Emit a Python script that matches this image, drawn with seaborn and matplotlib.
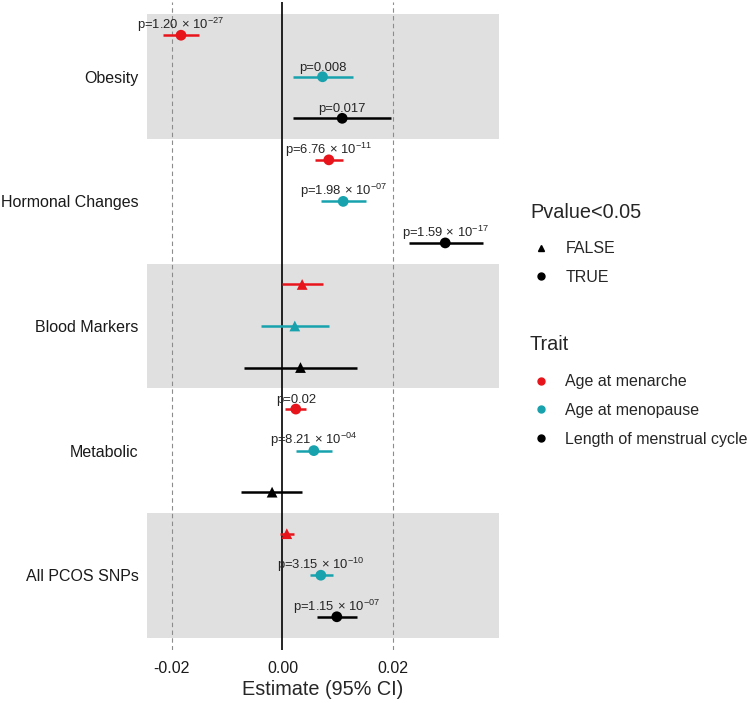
import numpy as np
import pandas as pd
import matplotlib
matplotlib.use("Agg")
import matplotlib.pyplot as plt
from matplotlib.lines import Line2D
import seaborn as sns

# data
groups = ["Obesity", "Hormonal Changes", "Blood Markers", "Metabolic", "All PCOS SNPs"]
traits = ["Age at menarche", "Age at menopause", "Length of menstrual cycle"]
est = [[-0.01833, 0.00723, 0.01078],
       [0.00837, 0.01096, 0.02939],
       [0.00355, 0.00222, 0.00325],
       [0.00240, 0.00566, -0.00188],
       [0.00078, 0.00692, 0.00981]]
lo = [[-0.02158, 0.00192, 0.00192],
      [0.00596, 0.00692, 0.02277],
      [0.00000, -0.00380, -0.00693],
      [0.00042, 0.00240, -0.00741],
      [-0.00049, 0.00488, 0.00620]]
hi = [[-0.01507, 0.01265, 0.01952],
      [0.01084, 0.01506, 0.03615],
      [0.00734, 0.00843, 0.01337],
      [0.00433, 0.00903, 0.00361],
      [0.00210, 0.00915, 0.01337]]
sig = [[True, True, True],
       [True, True, True],
       [False, False, False],
       [True, True, False],
       [False, True, True]]
plabels = [[r"p=1.20$\,\times\,$10$^{-27}$", "p=0.008", "p=0.017"],
           [r"p=6.76$\,\times\,$10$^{-11}$", r"p=1.98$\,\times\,$10$^{-07}$", r"p=1.59$\,\times\,$10$^{-17}$"],
           ["", "", ""],
           ["p=0.02", r"p=8.21$\,\times\,$10$^{-04}$", ""],
           ["", r"p=3.15$\,\times\,$10$^{-10}$", r"p=1.15$\,\times\,$10$^{-07}$"]]

palette = {"Age at menarche": "#E8141B",
           "Age at menopause": "#17A2AD",
           "Length of menstrual cycle": "#000000"}

rows = []
for gi, g in enumerate(groups):
    for ti, t in enumerate(traits):
        rows.append(dict(group=g, trait=t, pos=gi + (ti - 1) / 3,
                         est=est[gi][ti], lo=lo[gi][ti], hi=hi[gi][ti],
                         sig=sig[gi][ti], lab=plabels[gi][ti]))
df = pd.DataFrame(rows)

sns.set_style("white")
plt.rcParams["font.family"] = ["Liberation Sans", "DejaVu Sans"]
plt.rcParams["mathtext.fontset"] = "custom"
plt.rcParams["mathtext.rm"] = "Liberation Sans"
plt.rcParams["mathtext.it"] = "Liberation Sans"

fig = plt.figure(figsize=(7.5, 7.04), dpi=100)
ax = fig.add_axes([147 / 750, 1 - 650 / 704, (499 - 147) / 750, (650 - 2) / 704])

for gi in range(0, len(groups), 2):
    ax.axhspan(gi - 0.5, gi + 0.5, color="#E0E0E0", lw=0, zorder=0)
for v in (-0.02, 0.02):
    ax.axvline(v, color="#8C8C8C", lw=0.8, ls=(0, (4, 3)), zorder=1)
ax.axvline(0, color="black", lw=1.2, zorder=2)

for _, r in df.iterrows():
    ax.hlines(r["pos"], r["lo"], r["hi"], color=palette[r["trait"]], lw=1.8, zorder=3)

sns.scatterplot(data=df, x="est", y="pos", hue="trait", style="sig",
                palette=palette, markers={True: "o", False: "^"},
                s=60, edgecolor="none", legend=False, ax=ax, zorder=4)

for _, r in df.iterrows():
    if r["lab"]:
        ax.text(r["est"], r["pos"] - 0.05, r["lab"], ha="center", va="baseline",
                fontsize=9.4, zorder=5)

ax.set_xlim(-0.02447, 0.0391)
ax.set_ylim(len(groups) - 0.4, -0.6)
ax.set_yticks(range(len(groups)))
ax.set_yticklabels(groups)
ax.set_xticks([-0.02, 0.0, 0.02])
ax.set_xticklabels(["-0.02", "0.00", "0.02"])
ax.tick_params(axis="both", length=0, labelsize=11.5, colors="#1a1a1a", pad=6)
ax.tick_params(axis="x", pad=8)
ax.set_xlabel("Estimate (95% CI)", fontsize=14.3, labelpad=3)
ax.set_ylabel("")
for s in ax.spines.values():
    s.set_visible(False)

# legends: titles drawn as text, entries as legends
fig.text(530 / 750, 1 - 212 / 704, "Pvalue<0.05", fontsize=14.3, va="center", ha="left")
h1 = [Line2D([], [], ls="", marker="^", color="black", ms=5),
      Line2D([], [], ls="", marker="o", color="black", ms=5)]
fig.legend(h1, ["FALSE", "TRUE"], loc="upper left",
           bbox_to_anchor=(523 / 750, 1 - 235 / 704), frameon=False,
           fontsize=11.5, handletextpad=0.75, borderaxespad=0,
           labelspacing=0.85, handlelength=1.5)
fig.text(530 / 750, 1 - 344 / 704, "Trait", fontsize=14.3, va="center", ha="left")
h2 = [Line2D([], [], ls="", marker="o", color=palette[t], ms=5) for t in traits]
fig.legend(h2, traits, loc="upper left",
           bbox_to_anchor=(523 / 750, 1 - 368 / 704), frameon=False,
           fontsize=11.5, handletextpad=0.75, borderaxespad=0,
           labelspacing=0.85, handlelength=1.5)

fig.savefig("out.png", dpi=100)
